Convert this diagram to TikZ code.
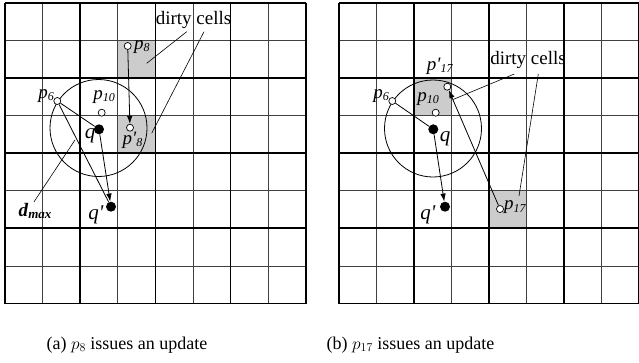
\documentclass[tikz,border=0pt]{standalone}
\usepackage[no-math]{fontspec}
\setmainfont{Liberation Serif}
\usetikzlibrary{arrows.meta}
\newcommand{\lbl}[2]{\textit{#1}\raisebox{-0.25ex}{\fontsize{12}{12}\selectfont\textit{#2}}}
\newcommand{\prm}{\textquotesingle}
\tikzset{
  thickgrid/.style={line width=1.7pt, black},
  thingrid/.style={line width=0.8pt, black!75},
  dirtycell/.style={fill=black!20, draw=none},
  opendot/.style={circle, draw=black, fill=white, line width=0.7pt, inner sep=0pt, minimum size=7pt},
  fulldot/.style={circle, fill=black, inner sep=0pt, minimum size=10pt},
  lab/.style={inner sep=0pt, font=\fontsize{19}{21}\selectfont},
  qlab/.style={inner sep=0pt, font=\fontsize{21}{23}\selectfont},
  captext/.style={inner sep=0pt, font=\fontsize{18}{20}\selectfont},
  leader/.style={line width=0.6pt, black},
  conn/.style={line width=0.8pt, black},
  mv/.style={line width=0.8pt, black, -{Latex[length=8pt,width=5.5pt]}},
  rangecircle/.style={line width=0.8pt, black}
}
\begin{document}
\begin{tikzpicture}[x=1pt, y=-1pt]
\useasboundingbox (0,0) rectangle (639,362);
% ---------- left panel grid ----------
\begin{scope}[shift={(5,2.7)}, x=37.6pt, y=-37.6pt]
  \fill[dirtycell] (3,1) rectangle (4,2);
  \fill[dirtycell] (3,3) rectangle (4,4);
  \foreach \i in {1,3,5,7}{
    \draw[thingrid] (\i,0) -- (\i,8);
    \draw[thingrid] (0,\i) -- (8,\i);
  }
  \foreach \i in {0,2,4,6,8}{
    \draw[thickgrid] (\i,0) -- (\i,8);
    \draw[thickgrid] (0,\i) -- (8,\i);
  }
\end{scope}
% ---------- right panel grid ----------
\begin{scope}[shift={(339.2,2.7)}, x=37.5pt, y=-37.6pt]
  \fill[dirtycell] (2,2) rectangle (3,3);
  \fill[dirtycell] (4,5) rectangle (5,6);
  \foreach \i in {1,3,5,7}{
    \draw[thingrid] (\i,0) -- (\i,8);
    \draw[thingrid] (0,\i) -- (8,\i);
  }
  \foreach \i in {0,2,4,6,8}{
    \draw[thickgrid] (\i,0) -- (\i,8);
    \draw[thickgrid] (0,\i) -- (8,\i);
  }
\end{scope}
% ---------- left panel objects ----------
\coordinate (Lq0) at (98.5,128);
\draw[rangecircle] (Lq0) circle[radius=48.5];
\node[opendot] (Lp8) at (127.7,46) {};
\node[opendot] (Lp8n) at (130,127.7) {};
\node[opendot] (Lp6) at (57.3,101) {};
\node[opendot] (Lp10) at (101.7,112.7) {};
\node[fulldot] (Lq) at (99,129.3) {};
\node[fulldot] (Lqn) at (111,206.7) {};
\draw[conn] (Lp6) -- (Lq);
\draw[conn] (Lp6) -- (Lqn);
\draw[mv] (Lq) -- (Lqn);
\draw[mv] (Lp8) -- (Lp8n);
\node[lab, anchor=west] (Lp8l) at (134,47) {\lbl{p}{8}};
\node[lab, anchor=east] (Lp6l) at (54,96) {\lbl{p}{6}};
\node[lab] (Lp10l) at (104,97) {\lbl{p}{10}};
\node[qlab] (Lql) at (90,136) {\textit{q}};
\node[lab] (Lp8nl) at (132.5,140) {\lbl{p\prm}{8}};
\node[qlab] (Lqnl) at (96,215) {\textit{q\prm}};
\node[lab] (Ldmax) at (35,211) {\textbf{\textit{d}}\raisebox{-0.3ex}{\fontsize{13}{13}\selectfont\textbf{\textit{max}}}};
\coordinate (Ldtip) at (75,140);
\draw[leader] (Ldmax.north) ++(-1,-1) -- (Ldtip);
\node[lab] (Ldirty) at (193.5,20) {dirty cells};
\coordinate (Ld1) at (146.7,63.3);
\coordinate (Ld2) at (151.7,133.3);
\draw[leader] (186.7,31.7) -- (Ld1);
\draw[leader] (204,31.7) -- (Ld2);
% ---------- right panel objects ----------
\coordinate (Rq0) at (433,128.5);
\draw[rangecircle] (Rq0) circle[radius=48.5];
\node[opendot] (Rp6) at (392.3,101) {};
\node[opendot] (Rp10) at (435.7,112.7) {};
\node[opendot] (Rp17n) at (447.3,86.7) {};
\node[opendot] (Rp17) at (500,209) {};
\node[fulldot] (Rq) at (433.3,129.3) {};
\node[fulldot] (Rqn) at (445,206.7) {};
\draw[conn] (Rp6) -- (Rq);
\draw[mv] (Rq) -- (Rqn);
\draw[mv] (Rp17) -- (Rp17n);
\node[lab, anchor=east] (Rp6l) at (389,96) {\lbl{p}{6}};
\node[lab] (Rp10l) at (428,99) {\lbl{p}{10}};
\node[lab] (Rp17nl) at (440,66.5) {\lbl{p\prm}{17}};
\node[qlab] (Rql) at (445,139) {\textit{q}};
\node[qlab] (Rqnl) at (428,215) {\textit{q\prm}};
\node[lab, anchor=west] (Rp17l) at (504,207.5) {\lbl{p}{17}};
\node[lab] (Rdirty) at (528,60) {dirty cells};
\coordinate (Rd1) at (453,99.5);
\coordinate (Rd2) at (519,196);
\draw[leader] (514.3,74) -- (Rd1);
\draw[leader] (538.3,74) -- (Rd2);
% ---------- captions ----------
\node[captext] (capa) at (127,345) {(a) $p_8$ issues an update};
\node[captext] (capb) at (410.5,345) {(b) $p_{17}$ issues an update};
\end{tikzpicture}
\end{document}
